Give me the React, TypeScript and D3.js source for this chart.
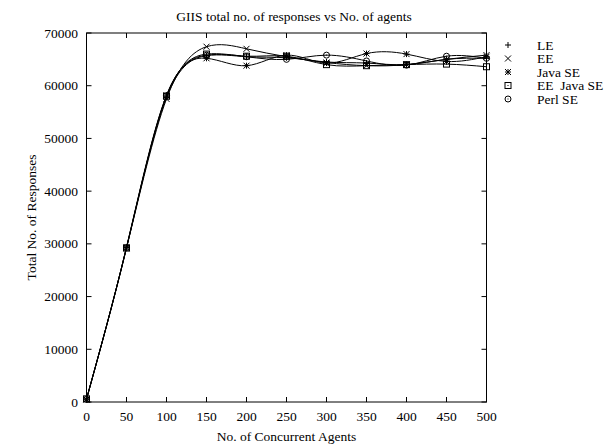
import React from "react";
import * as d3 from "d3";

const agents = [0, 50, 100, 150, 200, 250, 300, 350, 400, 450, 500];
const seriesNames = ["LE", "EE", "Java SE", "EE  Java SE", "Perl SE"];
const leValues = [600, 29300, 57800, 65700, 65500, 65300, 64500, 64300, 64000, 65000, 65200];
const eeValues = [500, 29200, 57500, 67400, 67000, 65500, 64400, 63800, 64000, 65000, 65800];
const javaSeValues = [500, 29400, 58200, 65200, 63800, 65800, 64300, 66100, 66000, 64600, 65500];
const eeJavaSeValues = [600, 29200, 58000, 66000, 65600, 65600, 64000, 63800, 64000, 64100, 63600];
const perlSeValues = [500, 29300, 58100, 65800, 65500, 65000, 65800, 64700, 63900, 65600, 65200];
const xTicks = [0, 50, 100, 150, 200, 250, 300, 350, 400, 450, 500];
const yTicks = [0, 10000, 20000, 30000, 40000, 50000, 60000, 70000];

const W = 605;
const H = 446;
const L = 86.5, R = 486.5, T = 33, B = 402;
const FONT = "'Liberation Serif', 'DejaVu Serif', serif";
const FS = 13.5;

function Marker({ kind, x, y }: { kind: number; x: number; y: number }) {
  const s = 3;
  const st = { stroke: "#000", strokeWidth: 1, fill: "none" } as const;
  if (kind === 0)
    return <path d={`M${x - s},${y}H${x + s}M${x},${y - s}V${y + s}`} {...st} />;
  if (kind === 1)
    return <path d={`M${x - s},${y - s}L${x + s},${y + s}M${x - s},${y + s}L${x + s},${y - s}`} {...st} />;
  if (kind === 2)
    return (
      <path
        d={`M${x - s},${y}H${x + s}M${x},${y - s}V${y + s}M${x - s},${y - s}L${x + s},${y + s}M${x - s},${y + s}L${x + s},${y - s}`}
        {...st}
      />
    );
  if (kind === 3)
    return (
      <g>
        <rect x={x - s} y={y - s} width={2 * s} height={2 * s} {...st} />
        <rect x={x - 0.5} y={y - 0.5} width={1} height={1} fill="#000" />
      </g>
    );
  return (
    <g>
      <circle cx={x} cy={y} r={s} {...st} />
      <rect x={x - 0.5} y={y - 0.5} width={1} height={1} fill="#000" />
    </g>
  );
}

export default function App() {
  const x = d3.scaleLinear().domain([0, 500]).range([L, R]);
  const y = d3.scaleLinear().domain([0, 70000]).range([B, T]);
  const all = [leValues, eeValues, javaSeValues, eeJavaSeValues, perlSeValues];
  const line = d3
    .line<number>()
    .x((_, i) => x(agents[i]))
    .y((d) => y(d))
    .curve(d3.curveNatural);

  return (
    <svg width={W} height={H} style={{ position: "absolute", left: 0, top: 0, background: "#fff" }}>
      <rect width={W} height={H} fill="#fff" />
      <text x={294} y={21} textAnchor="middle" fontFamily={FONT} fontSize={FS}>
        GIIS total no. of responses vs No. of agents
      </text>
      {xTicks.map((t) => (
        <g key={"x" + t}>
          <line x1={x(t)} x2={x(t)} y1={B} y2={B - 5} stroke="#000" />
          <line x1={x(t)} x2={x(t)} y1={T} y2={T + 5} stroke="#000" />
          <text x={x(t)} y={421} textAnchor="middle" fontFamily={FONT} fontSize={FS}>
            {t}
          </text>
        </g>
      ))}
      {yTicks.map((t) => (
        <g key={"y" + t}>
          <line x1={L} x2={L + 5} y1={y(t)} y2={y(t)} stroke="#000" />
          <line x1={R} x2={R - 5} y1={y(t)} y2={y(t)} stroke="#000" />
          <text x={78} y={y(t) + 4.5} textAnchor="end" fontFamily={FONT} fontSize={FS}>
            {t}
          </text>
        </g>
      ))}
      <rect x={L} y={T} width={R - L} height={B - T} fill="none" stroke="#000" strokeWidth={1} />
      <text x={(L + R) / 2} y={441} textAnchor="middle" fontFamily={FONT} fontSize={FS}>
        No. of Concurrent Agents
      </text>
      <text
        transform={`translate(36,${(T + B) / 2}) rotate(-90)`}
        textAnchor="middle"
        fontFamily={FONT}
        fontSize={FS}
      >
        Total No. of Responses
      </text>
      {all.map((vals, k) => (
        <g key={"s" + k}>
          <path d={line(vals) || ""} fill="none" stroke="#000" strokeWidth={1} />
          {vals.map((v, i) => (
            <Marker key={i} kind={k} x={x(agents[i])} y={y(v)} />
          ))}
        </g>
      ))}
      {seriesNames.map((n, k) => (
        <g key={"l" + k}>
          <Marker kind={k} x={508} y={45 + k * 13.5} />
          <text x={537} y={49.5 + k * 13.5} fontFamily={FONT} fontSize={FS} style={{ whiteSpace: "pre" }}>
            {n}
          </text>
        </g>
      ))}
    </svg>
  );
}
